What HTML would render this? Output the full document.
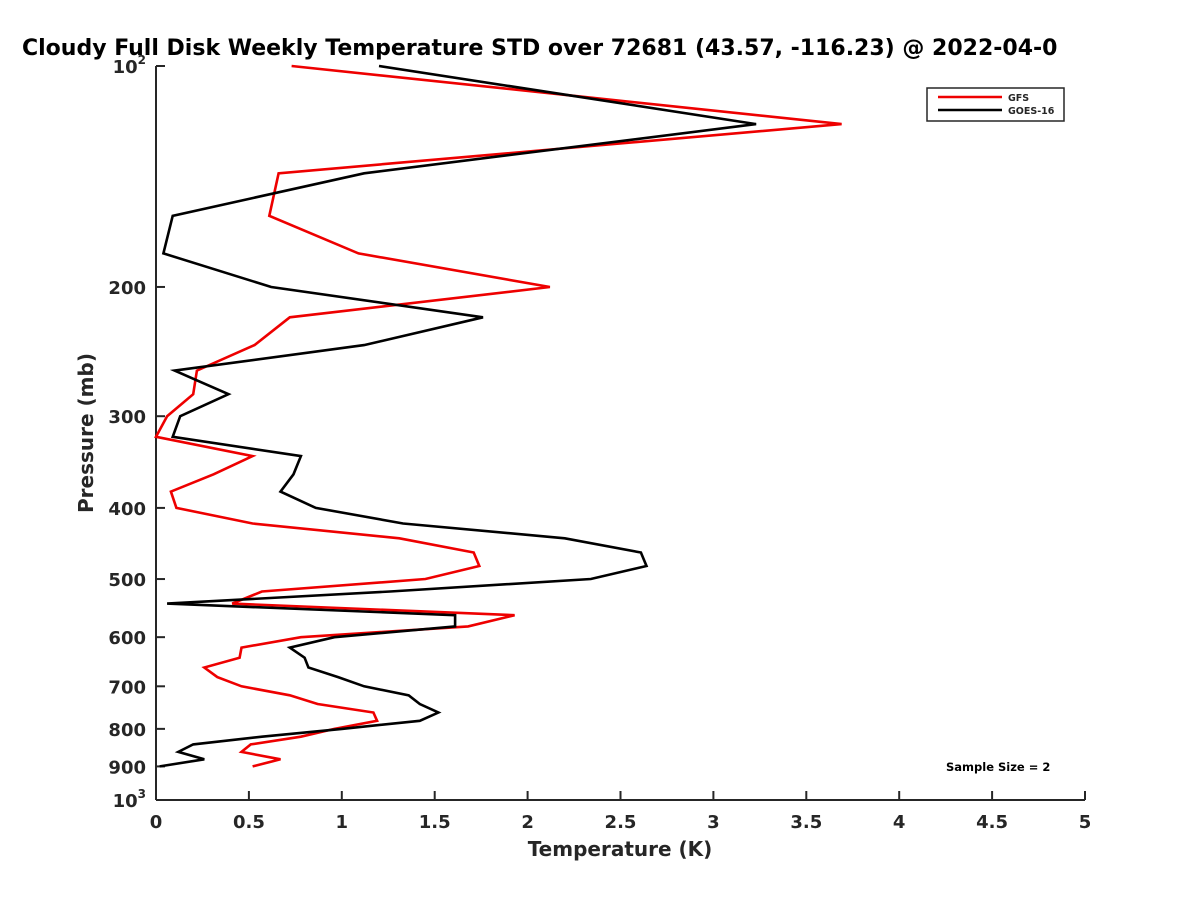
<!DOCTYPE html>
<html><head><meta charset="utf-8"><style>
body{margin:0;background:#fff;}
svg text{font-family:"DejaVu Sans","Liberation Sans",sans-serif;font-weight:bold;fill:#262626;}
</style></head><body>
<svg id="chart" width="1200" height="900" xmlns="http://www.w3.org/2000/svg">
<rect width="1200" height="900" fill="#fff"/>
<text x="22" y="55" font-size="22" style="fill:#000">Cloudy Full Disk Weekly Temperature STD over 72681 (43.57, -116.23) @ 2022-04-0</text>
<g id="axes"></g>
<g id="series"></g>
<g>
<rect x="927" y="88" width="137" height="33" fill="#fff" stroke="#262626" stroke-width="1.5"/>
<line x1="938" y1="97" x2="1002" y2="97" stroke="#e00" stroke-width="2.5"/>
<text x="1008" y="101" font-size="9.5">GFS</text>
<line x1="938" y1="110" x2="1002" y2="110" stroke="#000" stroke-width="2.5"/>
<text x="1008" y="114" font-size="9.5">GOES-16</text>
</g>
<text x="946" y="771" font-size="11.5" style="fill:#000">Sample Size = 2</text>
<text x="620" y="856" font-size="20" text-anchor="middle">Temperature (K)</text>
<text transform="translate(93,433) rotate(-90)" font-size="20" text-anchor="middle">Pressure (mb)</text>
</svg>
<script>
const pressures=[100,120,140,160,180,200,220,240,260,280,300,320,340,360,380,400,420,440,460,480,500,520,540,560,580,600,620,640,660,680,700,720,740,760,780,800,820,840,860,880,900];
const gfsValues=[0.73,3.69,0.66,0.61,1.09,2.12,0.72,0.53,0.22,0.20,0.06,0.0,0.52,0.31,0.08,0.11,0.52,1.31,1.71,1.74,1.45,0.57,0.41,1.93,1.68,0.78,0.46,0.45,0.26,0.33,0.46,0.72,0.87,1.17,1.19,0.96,0.78,0.51,0.46,0.67,0.52];
const goesValues=[1.20,3.23,1.12,0.09,0.04,0.62,1.76,1.12,0.10,0.39,0.13,0.09,0.78,0.74,0.67,0.86,1.33,2.20,2.61,2.64,2.34,1.26,0.06,1.61,1.61,0.96,0.72,0.80,0.82,0.98,1.12,1.36,1.42,1.52,1.42,1.0,0.57,0.20,0.12,0.26,0.02];
const xTicks=[0,0.5,1,1.5,2,2.5,3,3.5,4,4.5,5];
const yTicks=[200,300,400,500,600,700,800,900];
const NS="http://www.w3.org/2000/svg";
const X0=156,X1=1085,Y0=66,Y1=800;
function xs(v){return X0+(v/5)*(X1-X0);}
function ys(p){return Y0+Math.log10(p/100)*(Y1-Y0);}
function mk(tag,attrs,parent){const e=document.createElementNS(NS,tag);for(const k in attrs)e.setAttribute(k,attrs[k]);parent.appendChild(e);return e;}
const ax=document.getElementById('axes');
let l=mk('line',{x1:X0,y1:Y0,x2:X0,y2:Y1,stroke:'#262626','stroke-width':2},ax);


l=mk('line',{x1:X0,y1:Y1,x2:X1,y2:Y1,stroke:'#262626','stroke-width':2},ax);


xTicks.forEach(v=>{const x=xs(v);
 const t=mk('line',{x1:x,y1:Y1,x2:x,y2:Y1-9,stroke:'#262626','stroke-width':2},ax);
 
 
 const tx=mk('text',{x:x,y:Y1+28,'font-size':18,'text-anchor':'middle'},ax);tx.textContent=String(v);
 
 
});
[100].concat(yTicks,[1000]).forEach(p=>{const y=ys(p);
 const t=mk('line',{x1:X0,y1:y,x2:X0+9,y2:y,stroke:'#262626','stroke-width':2},ax);
 
 
 const tx=mk('text',{x:X0-10,y:y+7,'font-size':18,'text-anchor':'end'},ax);
 if(p===100||p===1000){tx.textContent='10';const s=mk('tspan',{dy:-9,'font-size':12},tx);s.textContent=p===100?'2':'3';}
 else tx.textContent=String(p);
 
 
});
const sg=document.getElementById('series');
function line(vals,color,name){
 const pts=vals.map((v,i)=>xs(v).toFixed(1)+','+ys(pressures[i]).toFixed(1)).join(' ');
 const pl=mk('polyline',{points:pts,fill:'none',stroke:color,'stroke-width':2.6,'stroke-linejoin':'miter'},sg);
 
 
}
line(gfsValues,'#e00','gfs-line');
line(goesValues,'#000','goes16-line');
</script>
</body></html>
